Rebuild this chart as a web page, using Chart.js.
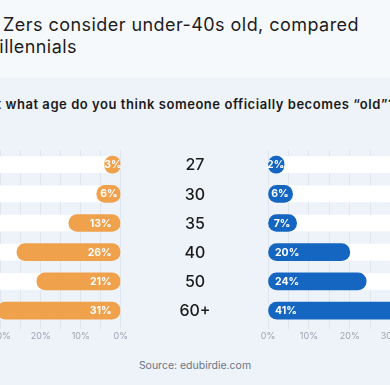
<!DOCTYPE html>
<html lang="en">
<head>
    <meta charset="UTF-8">
    <title>Age someone becomes old</title>
    <style>
        body {
    margin: 0;
    width: 390px;
    height: 385px;
    overflow: hidden;
    position: relative;
    background-color: #eef3f9;
    font-family: Inter, Arial, sans-serif;
}

.header {
    position: absolute;
    left: 0;
    top: 0;
    width: 390px;
    height: 78px;
    background-color: #f6f9fc;
}

.title {
    position: absolute;
    white-space: nowrap;
    font-size: 18px;
    letter-spacing: 0.45px;
    color: #1c1c1c;
    line-height: 22px;
}

.subtitle {
    position: absolute;
    right: 2px;
    top: 96px;
    white-space: nowrap;
    font-size: 13px;
    letter-spacing: 0.55px;
    font-weight: 600;
    color: #1a1a1a;
}
.subtitle::after {
    content: "?";
    position: absolute;
    left: 100%;
}

.chart-box {
    position: absolute;
    top: 142px;
    height: 205px;
}

.source {
    position: absolute;
    left: 0;
    width: 390px;
    top: 359px;
    text-align: center;
    font-size: 10.5px;
    color: #6b7686;
}
    </style>
</head>
<body>
    <div class="header">
        <span class="title" style="right: 31px; top: 14px;">How many Gen Zers consider under-40s old, compared</span>
        <span class="title" style="right: 313px; top: 36px;">to millennials</span>
    </div>
    <div class="subtitle">At what age do you think someone officially becomes “old”</div>

    <div class="chart-box" style="left: -57px; width: 187px;">
        <canvas id="genZChart"></canvas>
    </div>
    <div class="chart-box" style="left: 150px; width: 300px;">
        <canvas id="millennialChart"></canvas>
    </div>

    <div class="source">Source: edubirdie.com</div>

    <script src="https://cdn.jsdelivr.net/npm/chart.js"></script>
    <script>
const ages = ['27', '30', '35', '40', '50', '60+'];
const genZ = [3, 6, 13, 26, 21, 31];
const millennials = [2, 6, 7, 20, 24, 41];
const axisMax = 44;

const orange = '#f0a14c';
const blue = '#1466c1';

// draws the % label inside each coloured bar, near the 0% end
const barLabels = {
    id: 'barLabels',
    afterDatasetsDraw(chart) {
        const ctx = chart.ctx;
        const meta = chart.getDatasetMeta(0);
        const xScale = chart.scales.x;
        const zero = xScale.getPixelForValue(0);
        const reversed = xScale.options.reverse;
        const pad = reversed ? 9 : 7;
        ctx.save();
        ctx.font = 'bold 10.5px Inter, Arial, sans-serif';
        ctx.fillStyle = '#ffffff';
        ctx.textAlign = 'center';
        ctx.textBaseline = 'middle';
        meta.data.forEach((bar, i) => {
            const text = chart.data.datasets[0].data[i] + '%';
            const tw = ctx.measureText(text).width;
            const barW = Math.abs(bar.x - bar.base);
            const off = Math.min(barW / 2, pad + tw / 2);
            const cx = reversed ? zero - off : zero + off;
            ctx.fillText(text, cx, bar.y + 0.5);
        });
        ctx.restore();
    }
};

// age labels in the gap between the two charts (drawn by the right chart)
const ageLabels = {
    id: 'ageLabels',
    afterDraw(chart) {
        if (chart.scales.x.options.reverse) return;
        const ctx = chart.ctx;
        const yScale = chart.scales.y;
        ctx.save();
        ctx.font = '500 16px Inter, Arial, sans-serif';
        ctx.fillStyle = '#1b1b1b';
        ctx.textAlign = 'center';
        ctx.textBaseline = 'middle';
        ages.forEach((age, i) => {
            ctx.fillText(age, 45, yScale.getPixelForValue(i) + 1);
        });
        ctx.restore();
    }
};

function makeChart(id, values, color, reversed) {
    return new Chart(document.getElementById(id), {
        type: 'bar',
        data: {
            labels: ages,
            datasets: [{
                data: values,
                backgroundColor: color,
                borderRadius: 20,
                borderSkipped: false,
                barThickness: 17,
                minBarLength: 16,
                grouped: false,
                order: 1
            }, {
                data: ages.map(() => axisMax),
                backgroundColor: '#ffffff',
                borderRadius: 20,
                borderSkipped: false,
                barThickness: 16,
                grouped: false,
                order: 2
            }]
        },
        options: {
            indexAxis: 'y',
            responsive: true,
            maintainAspectRatio: false,
            animation: false,
            layout: {
                padding: reversed
                    ? { left: 0, right: 8, top: 8, bottom: 3 }
                    : { left: 118, right: 0, top: 8, bottom: 3 }
            },
            plugins: {
                legend: { display: false },
                tooltip: { enabled: false }
            },
            scales: {
                x: {
                    reverse: reversed,
                    min: 0,
                    max: axisMax,
                    border: { display: false },
                    grid: {
                        color: '#dfe6ef',
                        tickLength: 4
                    },
                    ticks: {
                        stepSize: 5,
                        padding: 2,
                        autoSkip: false,
                        maxRotation: 0,
                        minRotation: 0,
                        color: '#9aa4b2',
                        font: { family: 'Inter, Arial, sans-serif', size: 9 },
                        callback: v => (v % 10 === 0 ? v + '%' : '')
                    }
                },
                y: { display: false }
            }
        },
        plugins: [barLabels, ageLabels]
    });
}

makeChart('genZChart', genZ, orange, true);
makeChart('millennialChart', millennials, blue, false);
    </script>
</body>
</html>
